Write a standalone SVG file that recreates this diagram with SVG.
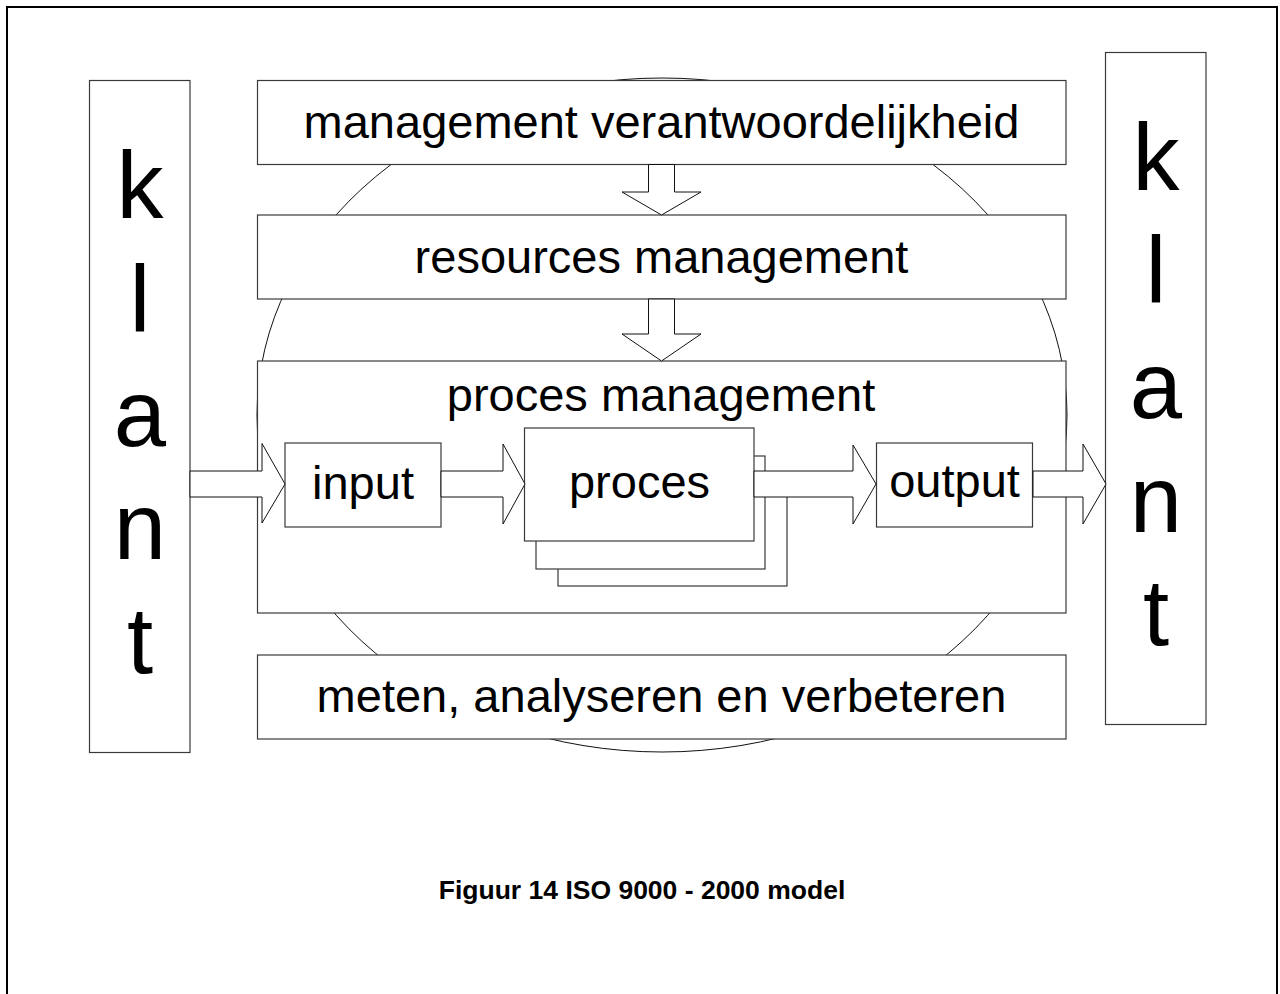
<svg xmlns="http://www.w3.org/2000/svg" width="1280" height="994" viewBox="0 0 1280 994">
<style>
.box{fill:#fff;stroke:#3a3a3a;stroke-width:1.2}
.arr{fill:#fff;stroke:#111;stroke-width:1}
.t{font-family:"Liberation Sans",Arial,sans-serif;font-size:47px;fill:#000;text-anchor:middle}
.k{font-family:"Liberation Sans",Arial,sans-serif;font-size:94px;fill:#000;text-anchor:middle}
.cap{font-family:"Liberation Sans",Arial,sans-serif;font-size:26.5px;font-weight:bold;fill:#000;text-anchor:middle}
</style>
<rect width="1280" height="994" fill="#fff"/>
<rect x="7" y="7" width="1270" height="1000" fill="none" stroke="#000" stroke-width="2"/>
<ellipse id="cycle" cx="662" cy="415" rx="405" ry="337" fill="#fff" stroke="#111" stroke-width="1"/>
<g id="klant-left">
<rect class="box" x="89.5" y="80.5" width="100.5" height="672"/>
<text class="k" x="140" y="218">k</text>
<text class="k" x="140" y="332">l</text>
<text class="k" x="140" y="446">a</text>
<text class="k" x="140" y="559">n</text>
<text class="k" x="140" y="673">t</text>
</g>
<g id="klant-right">
<rect class="box" x="1105.5" y="52.5" width="100.5" height="672"/>
<text class="k" x="1156" y="190">k</text>
<text class="k" x="1156" y="303">l</text>
<text class="k" x="1156" y="418">a</text>
<text class="k" x="1156" y="532">n</text>
<text class="k" x="1156" y="645">t</text>
</g>
<g id="management-verantwoordelijkheid">
<rect class="box" x="257.5" y="80.5" width="808.5" height="84"/>
<text class="t" x="661.5" y="138">management verantwoordelijkheid</text>
</g>
<g id="resources-management">
<rect class="box" x="257.5" y="215" width="808.5" height="84"/>
<text class="t" x="661.5" y="272.5">resources management</text>
</g>
<g id="proces-management">
<rect class="box" x="257.5" y="361" width="808.5" height="252"/>
<text class="t" x="661" y="411">proces management</text>
</g>
<g id="meten">
<rect class="box" x="257.5" y="655" width="808.5" height="84"/>
<text class="t" x="661.5" y="712">meten, analyseren en verbeteren</text>
</g>
<g id="input">
<rect class="box" x="285" y="443" width="156" height="84"/>
<text class="t" x="363" y="499">input</text>
</g>
<g id="proces">
<rect class="box" x="558" y="476" width="229" height="110"/>
<rect class="box" x="536" y="456" width="229" height="113"/>
<rect class="box" x="524.5" y="428" width="229.5" height="113"/>
<text class="t" x="639.5" y="498">proces</text>
</g>
<g id="output">
<rect class="box" x="876.5" y="443" width="156" height="84"/>
<text class="t" x="954.5" y="497">output</text>
</g>
<g id="connectors">
<polygon class="arr" points="648.5,164.5 674.5,164.5 674.5,192 701,192 661.5,215 622,192 648.5,192"/>
<polygon class="arr" points="648.5,299 674.5,299 674.5,334 701,334 661.5,361 622,334 648.5,334"/>
<polygon class="arr" points="190,471 262,471 262,443.5 285,484 262,523 262,497 190,497"/>
<polygon class="arr" points="441,471 503,471 503,444 525,484 503,524 503,497 441,497"/>
<polygon class="arr" points="754,471 853,471 853,445 876,484 853,524 853,497 754,497"/>
<polygon class="arr" points="1033,471 1083,471 1083,444 1106,484 1083,524 1083,497 1033,497"/>
</g>
<text id="caption" class="cap" x="642" y="899">Figuur 14 ISO 9000 - 2000 model</text>
</svg>
